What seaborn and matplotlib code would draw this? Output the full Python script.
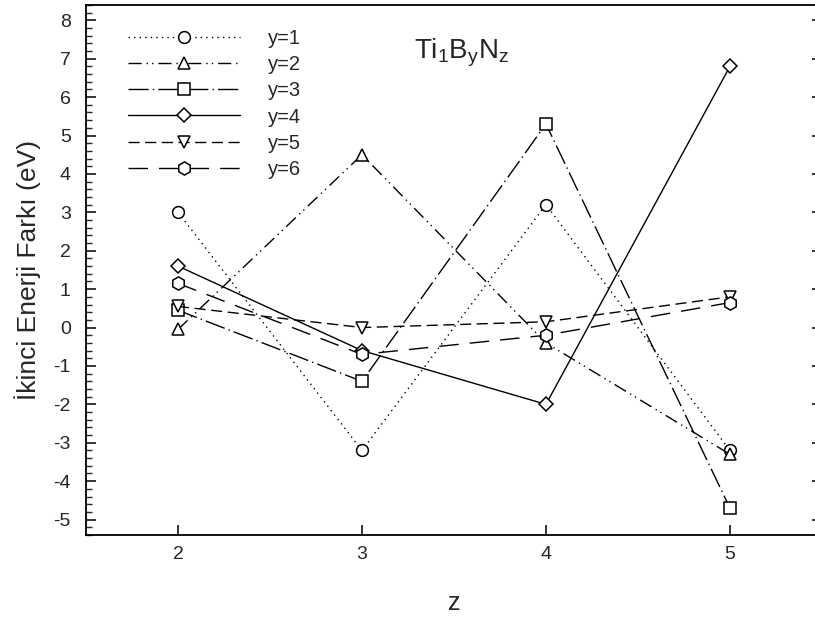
import pandas as pd
import seaborn as sns
import matplotlib.pyplot as plt
from matplotlib.ticker import MultipleLocator

z = [2, 3, 4, 5]
y1 = [3.0, -3.2, 3.2, -3.2]
y2 = [-0.05, 4.5, -0.4, -3.3]
y3 = [0.45, -1.4, 5.3, -4.7]
y4 = [1.6, -0.6, -2.0, 6.8]
y5 = [0.55, 0.0, 0.15, 0.8]
y6 = [1.15, -0.7, -0.2, 0.65]

labels = ['y=1', 'y=2', 'y=3', 'y=4', 'y=5', 'y=6']
series = [y1, y2, y3, y4, y5, y6]
markers = ['o', '^', 's', 'D', 'v', 'h']
styles = [(0, (1, 3)), (0, (9.5, 3.5, 1, 3, 1, 3.5)), (0, (14.5, 3, 1, 3)),
          '-', (0, (8, 4)), (0, (14, 8))]
msizes = [8.5, 9, 8.5, 7.5, 9, 9.5]

sns.set_style('ticks')
plt.rcParams['font.family'] = ['Liberation Sans', 'DejaVu Sans']
plt.rcParams['mathtext.fontset'] = 'custom'
plt.rcParams['mathtext.rm'] = 'Liberation Sans'
plt.rcParams['mathtext.default'] = 'rm'
plt.rcParams['axes.unicode_minus'] = False

fig = plt.figure(figsize=(8.15, 6.17), dpi=100)
ax = fig.add_axes([0.1055, 0.133, 0.903, 0.859])

for lab, vals, m, ls, ms in zip(labels, series, markers, styles, msizes):
    df = pd.DataFrame({'z': z, 'val': vals})
    sns.lineplot(data=df, x='z', y='val', ax=ax, color='black', lw=1.0,
                 linestyle=ls, marker=m, markersize=ms, mfc='white',
                 mec='black', mew=1.1, label=lab)

ax.set_xlim(1.5, 5.5)
ax.set_ylim(-5.4, 8.4)
ax.set_xticks(z)
ax.yaxis.set_major_locator(MultipleLocator(1))
ax.yaxis.set_minor_locator(MultipleLocator(0.2))
ax.tick_params(axis='both', which='major', direction='in', length=7,
               width=1.1, labelsize=14, color='black')
ax.tick_params(axis='x', which='major', pad=8)
ax.tick_params(axis='y', which='major', right=True, pad=11)
ax.tick_params(axis='y', which='minor', direction='in', length=4.5, width=1.0)
for sp in ax.spines.values():
    sp.set_visible(True)
    sp.set_linewidth(1.3)
    sp.set_color('black')

ax.set_xlabel('z', fontsize=18, labelpad=20)
ax.set_ylabel('İkinci Enerji Farkı (eV)', fontsize=19, labelpad=9)

ax.text(3.54, 7.15, r'Ti$_{1}$B$_{y}$N$_{z}$', fontsize=20,
        ha='center', va='center')

ax.legend(loc='upper left', bbox_to_anchor=(0.057, 0.955), frameon=False,
          fontsize=14.5, handlelength=5.57, handletextpad=1.4,
          labelspacing=0.36, borderpad=0, borderaxespad=0)

fig.savefig('out.png', dpi=100)
